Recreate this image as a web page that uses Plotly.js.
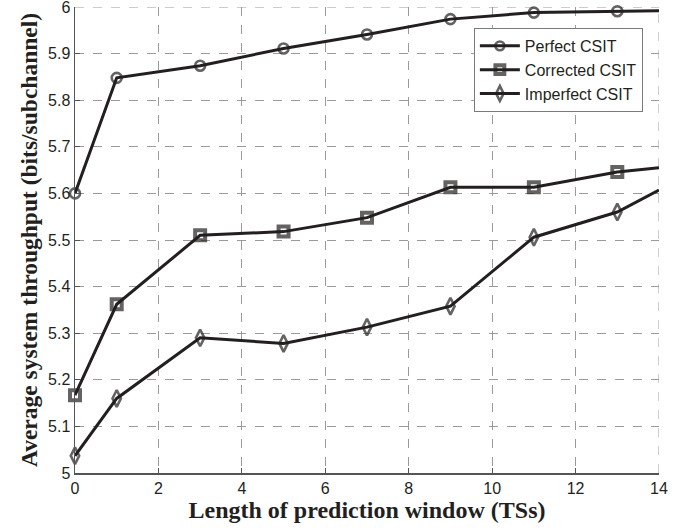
<!DOCTYPE html>
<html>
<head>
<meta charset="utf-8">
<script src="https://cdn.plot.ly/plotly-3.0.1.min.js"></script>
<style>html,body{margin:0;padding:0;background:#fff;}#chart{width:686px;height:531px;}</style>
</head>
<body>
<div id="chart"></div>
<script>
const windowLen = [0, 1, 3, 5, 7, 9, 11, 13, 14];
const markerX = [0, 1, 3, 5, 7, 9, 11, 13];
const perfect = [5.600, 5.848, 5.874, 5.911, 5.941, 5.974, 5.988, 5.991, 5.992];
const corrected = [5.167, 5.362, 5.510, 5.518, 5.548, 5.613, 5.613, 5.646, 5.655];
const imperfect = [5.037, 5.160, 5.290, 5.278, 5.313, 5.358, 5.506, 5.560, 5.607];
const names = ['Perfect CSIT', 'Corrected CSIT', 'Imperfect CSIT'];
const xTicks = [0, 2, 4, 6, 8, 10, 12, 14];
const yTicks = [5, 5.1, 5.2, 5.3, 5.4, 5.5, 5.6, 5.7, 5.8, 5.9, 6];
const yTickText = ['5', '5.1', '5.2', '5.3', '5.4', '5.5', '5.6', '5.7', '5.8', '5.9', '6'];

const lineColor = '#231f20';
const gridColor = '#9a9a9a';
const series = [perfect, corrected, imperfect];
const symbols = ['circle-open', 'square-open', 'diamond-tall-open'];
const sizes = [10, 10, 12];
const mlw = [2.6, 4, 2.6];
const traces = series.map((s, i) => ({
  x: windowLen,
  y: s,
  name: names[i],
  type: 'scatter',
  mode: 'lines+markers',
  cliponaxis: false,
  line: {color: lineColor, width: 3},
  marker: {
    symbol: symbols[i],
    size: windowLen.map(x => markerX.includes(x) ? sizes[i] : 0),
    color: lineColor,
    line: {color: lineColor, width: mlw[i]}
  }
}));

const xMax = xTicks[xTicks.length - 1];
const yMax = yTicks[yTicks.length - 1];
const tickFont = {family: 'Liberation Sans, Arial, sans-serif', size: 16, color: '#231f20'};
const layout = {
  width: 686,
  height: 531,
  margin: {l: 75, r: 27, t: 7, b: 58},
  paper_bgcolor: '#ffffff',
  plot_bgcolor: '#ffffff',
  showlegend: true,
  legend: {
    x: 0.683, y: 0.955, xanchor: 'left', yanchor: 'top',
    bgcolor: '#ffffff',
    bordercolor: '#7a7a7a',
    borderwidth: 1,
    itemwidth: 40,
    font: tickFont,
    tracegroupgap: 0
  },
  shapes: [
    {type: 'line', xref: 'paper', yref: 'y', x0: 0, x1: 1, y0: yMax, y1: yMax,
     line: {color: gridColor, width: 1, dash: 'dash'}, layer: 'below'},
    {type: 'line', xref: 'x', yref: 'paper', x0: xMax, x1: xMax, y0: 0, y1: 1,
     line: {color: gridColor, width: 1, dash: 'dash'}, layer: 'below'}
  ],
  xaxis: {
    range: [0, 14],
    tickvals: xTicks,
    ticktext: xTicks.map(String),
    ticklabeloverflow: 'allow',
    showgrid: true,
    gridcolor: gridColor,
    griddash: 'dash',
    gridwidth: 1,
    zeroline: false,
    showline: true,
    linecolor: '#555555',
    linewidth: 1.5,
    mirror: false,
    ticks: 'inside',
    ticklen: 5,
    tickcolor: '#555555',
    tickfont: tickFont,
    title: {
      text: 'Length of prediction window (TSs)',
      font: {family: 'Liberation Serif, Times New Roman, serif', size: 24, color: '#231f20', weight: 'bold'},
      standoff: 4
    }
  },
  yaxis: {
    range: [5, 6],
    tickvals: yTicks,
    ticktext: yTickText,
    ticklabeloverflow: 'allow',
    showgrid: true,
    gridcolor: gridColor,
    griddash: 'dash',
    gridwidth: 1,
    zeroline: false,
    showline: true,
    linecolor: '#555555',
    linewidth: 1.5,
    mirror: false,
    ticks: 'inside',
    ticklen: 5,
    tickcolor: '#555555',
    tickfont: tickFont,
    title: {
      text: 'Average system throughput (bits/subchannel)',
      font: {family: 'Liberation Serif, Times New Roman, serif', size: 23.5, color: '#231f20', weight: 'bold'},
      standoff: 4
    }
  }
};

Plotly.newPlot('chart', traces, layout, {displayModeBar: false, staticPlot: true});
</script>
</body>
</html>
